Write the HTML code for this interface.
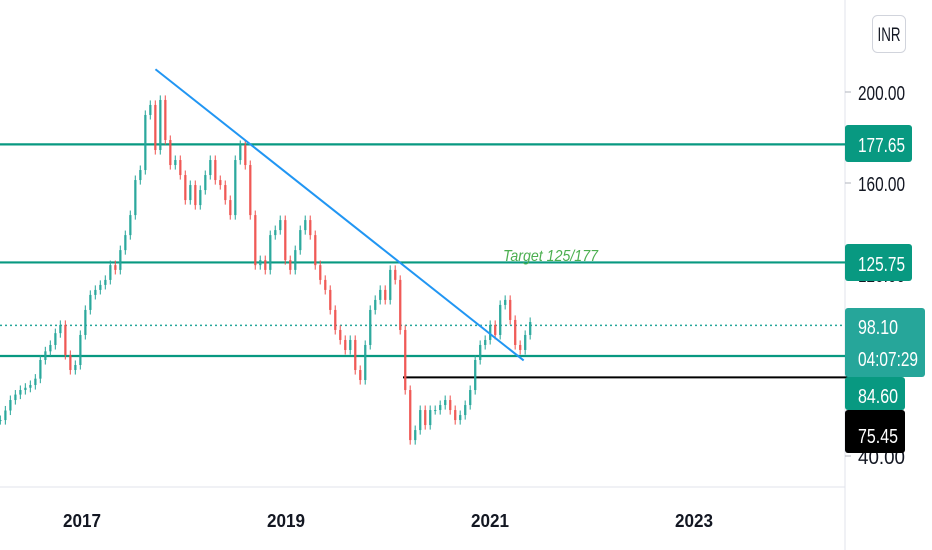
<!DOCTYPE html>
<html><head><meta charset="utf-8"><style>
body{margin:0;background:#fff;width:932px;height:550px;overflow:hidden;font-family:"Liberation Sans",sans-serif}
svg{display:block}
</style></head><body>
<svg id="chart" width="932" height="550" viewBox="0 0 932 550"></svg>
<script>
const closes=[55.8,60,64.6,67,69,70,71.2,74,82.2,86,88.8,94,97.6,84.4,77.8,80,93.2,104.2,110.8,113,115.2,117.4,123.9,121.8,130.5,137.1,145.9,161.3,165.7,189.9,194.3,174.5,196.5,178.9,167.9,170.1,163.5,152.5,159.1,150.3,156.9,163.5,170.1,161.3,159.1,152.5,145.9,170.1,176.7,167.9,145.9,123.9,126.1,121.8,137.1,139.3,143.7,126.1,121.8,130.5,139.3,143.7,137.1,123.9,117.4,113,104.2,95.4,91,86.6,91,77.8,73.4,88.8,104.2,108.6,113,108.6,121.8,117.4,95.4,69,47,51.4,60.2,53.6,60.2,60.2,62.4,64.6,60.2,55.8,58,62.4,69,82.2,88.8,91,97.6,93.2,106.4,108.6,99.8,88.8,86.6,93.2,98.9];
const startYear=2016.2, stepYear=0.049;
const levels=[177.65,125.75,84.6];
const lastPrice=98.10, supportLevel=75.45;
const yTicks=[200,160,120,40];
const xTicks=[2017,2019,2021,2023];
const trend=[[2017.72,210],[2021.33,82]];

const NS='http://www.w3.org/2000/svg';
const svg=document.getElementById('chart');
const y=v=>92+(200-v)*2.275;
const x=t=>82+(t-2017)*102;
function el(tag,attrs,parent){const e=document.createElementNS(NS,tag);for(const k in attrs)e.setAttribute(k,attrs[k]);(parent||svg).appendChild(e);return e;}

let a=el('line',{x1:845,y1:0,x2:845,y2:550,stroke:'#e0e3eb'});


a=el('line',{x1:0,y1:487,x2:845,y2:487,stroke:'#e0e3eb'});



levels.forEach(v=>{const l=el('line',{x1:0,y1:y(v)+1.5,x2:852,y2:y(v)+1.5,stroke:'#089981','stroke-width':2.2});

});
let d=el('line',{x1:0,y1:y(lastPrice)+1.5,x2:852,y2:y(lastPrice)+1.5,stroke:'#26a69a','stroke-width':1.5,'stroke-dasharray':'2 3'});


let s=el('line',{x1:403,y1:y(supportLevel)+2,x2:852,y2:y(supportLevel)+2,stroke:'#000','stroke-width':2});



closes.forEach((c,i)=>{
  const o=i?closes[i-1]:c;
  const cx=x(startYear+i*stepYear);
  const up=c>=o;const col=up?'#26a69a':'#ef5350';
  const hi=Math.max(o,c)+2, lo=Math.min(o,c)-2;
  const w=el('line',{x1:cx,y1:y(hi),x2:cx,y2:y(lo),stroke:col,'stroke-width':1.2,opacity:0.85});
  
  
  const b=el('rect',{x:cx-1.2,y:y(Math.max(o,c)),width:2.4,height:Math.max(1,Math.abs(y(o)-y(c))),fill:col,opacity:0.85});
  
  
});

let t=el('line',{x1:x(trend[0][0]),y1:y(trend[0][1]),x2:x(trend[1][0]),y2:y(trend[1][1]),stroke:'#2196f3','stroke-width':2});



let tt=el('text',{x:503,y:261,fill:'#4caf50','font-size':16,'font-style':'italic',textLength:95,lengthAdjust:'spacingAndGlyphs'});
tt.textContent='Target 125/177';



yTicks.forEach(v=>{
  const tk=el('line',{x1:845,y1:y(v),x2:851,y2:y(v),stroke:'#b2b5be'});
  
  
  const tx=el('text',{x:858,y:y(v)+8,fill:'#131722','font-size':20,textLength:47,lengthAdjust:'spacingAndGlyphs'});tx.textContent=v.toFixed(2);
  
  });
xTicks.forEach(v=>{const tx=el('text',{x:x(v),y:527,fill:'#131722','font-size':18,'font-weight':'bold','text-anchor':'middle',textLength:38,lengthAdjust:'spacingAndGlyphs'});tx.textContent=v;

});

function label(top,h,w,fill,lines,name){
  const g=el('g',{});
  
  
  el('rect',{x:845,y:top,width:w,height:h,rx:3,fill:fill},g);
  lines.forEach(([txt,base,len])=>{const tx=el('text',{x:858,y:base,fill:'#fff','font-size':20,textLength:len,lengthAdjust:'spacingAndGlyphs'},g);tx.textContent=txt;});
}
label(125,37,67,'#089981',[['177.65',152,47]],'level-label-177');
label(244,37,67,'#089981',[['125.75',271,47]],'level-label-125');
label(308,69,80,'#26a69a',[['98.10',334,40],['04:07:29',366,60]],'last-price-label');
label(377,33,60,'#089981',[['84.60',403,40]],'level-label-84');
label(410,43,60,'#000',[['75.45',443,40]],'support-label');

const ib=el('g',{});


el('rect',{x:872.5,y:15.5,width:33,height:37,rx:5,fill:'#fff',stroke:'#d1d4dc'},ib);
const it=el('text',{x:889,y:41,'font-size':19,'text-anchor':'middle',fill:'#131722',textLength:23,lengthAdjust:'spacingAndGlyphs'},ib);it.textContent='INR';
</script>
</body></html>
